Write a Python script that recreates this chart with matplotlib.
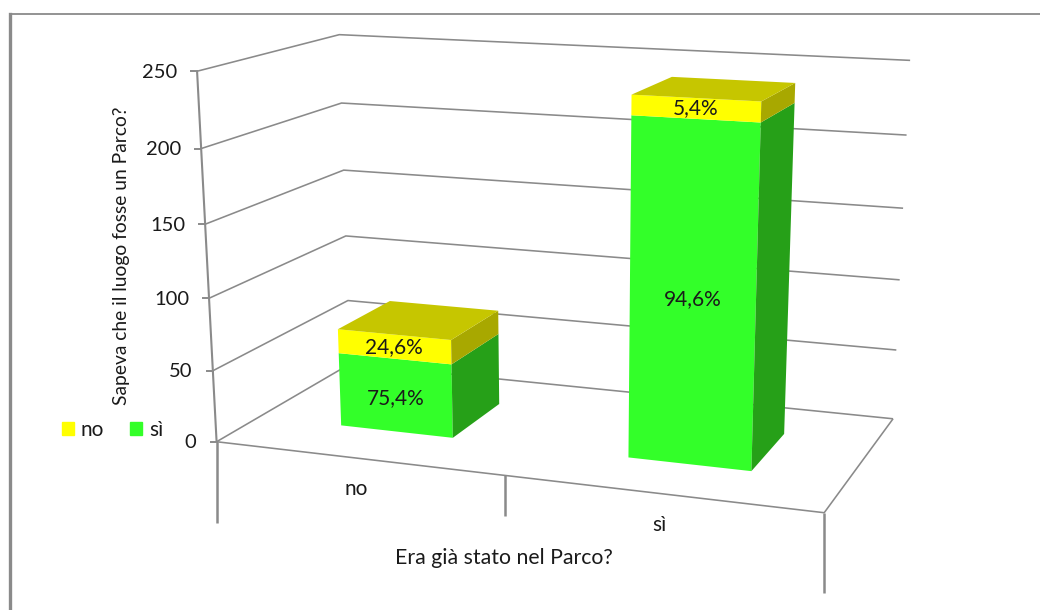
import numpy as np
import matplotlib
matplotlib.use('Agg')
import matplotlib.pyplot as plt
from matplotlib.patches import Patch

# Chart data
categories = ['no', 'sì']
si_values = [52, 227]
no_values = [17, 13]
si_labels = ['75,4%', '94,6%']
no_labels = ['24,6%', '5,4%']
y_ticks = [0, 50, 100, 150, 200, 250]
y_title = 'Sapeva che il luogo fosse un Parco?'
x_title = 'Era già stato nel Parco?'

# Colours
GRAY = '#8a8a8a'
TEXT = '#1a1a1a'
SI_FRONT, SI_SIDE = '#33ff29', '#26a018'
NO_FRONT, NO_TOP, NO_SIDE = '#ffff00', '#c6c600', '#a8a800'

# Camera calibration: box corners (category, value, depth) -> picture pixels
box_points = [(0, 0, 0), (0, 50, 0), (0, 100, 0), (0, 150, 0), (0, 200, 0), (0, 250, 0),
              (0, 0, 1), (0, 50, 1), (0, 100, 1), (0, 150, 1), (0, 200, 1), (0, 250, 1),
              (2, 0, 1), (2, 50, 1), (2, 100, 1), (2, 150, 1), (2, 200, 1), (2, 250, 1),
              (2, 0, 0)]
box_pixels = [(217, 441.5), (213, 371), (209, 298), (205, 225), (201, 148), (197, 71),
              (350, 365), (348, 300), (346, 235), (343, 170), (341, 103.5), (340, 35),
              (892, 419), (897, 350), (900, 279), (904, 208), (906, 135), (910, 61),
              (824, 513)]


def fit_camera(points, pixels):
    # Linear least squares for a 3x4 projection matrix
    rows, rhs = [], []
    for (X, Y, Z), (u, v) in zip(points, pixels):
        rows.append([X, Y, Z, 1, 0, 0, 0, 0, -u * X, -u * Y, -u * Z])
        rows.append([0, 0, 0, 0, X, Y, Z, 1, -v * X, -v * Y, -v * Z])
        rhs += [u, v]
    p = np.linalg.lstsq(np.array(rows, float), np.array(rhs, float), rcond=None)[0]
    return np.append(p, 1).reshape(3, 4)


CAM = fit_camera(box_points, box_pixels)


def project(x, y, z):
    h = CAM @ np.array([x, y, z, 1.0])
    return h[0] / h[2], h[1] / h[2]


def line3d(ax, pts, lw=1.15, color=GRAY):
    xy = np.array([project(*p) for p in pts])
    ax.plot(xy[:, 0], xy[:, 1], color=color, lw=lw, solid_capstyle='butt', zorder=2)


def face(ax, pts, color):
    xy = np.array([project(*p) for p in pts])
    ax.fill(xy[:, 0], xy[:, 1], color=color, lw=0, zorder=3)


def draw_segment(ax, x0, x1, z0, z1, y0, y1, front, side):
    face(ax, [(x0, y0, z0), (x1, y0, z0), (x1, y1, z0), (x0, y1, z0)], front)
    face(ax, [(x1, y0, z0), (x1, y0, z1), (x1, y1, z1), (x1, y1, z0)], side)


plt.rcParams['font.family'] = ['Lato', 'DejaVu Sans']
fig = plt.figure(figsize=(10.4, 6.1), dpi=100)
ax = fig.add_axes([0, 0, 1, 1])
ax.set_xlim(0, 1040)
ax.set_ylim(610, 0)
ax.axis('off')

# Outer frame, only top and left are visible in the picture
ax.plot([10, 1040], [14, 14], color=GRAY, lw=1.3)
ax.plot([10, 10], [14, 610], color=GRAY, lw=2.4)

# Gridlines around the walls
for v in y_ticks:
    line3d(ax, [(0, v, 0), (0, v, 1), (2, v, 1)])

# Floor edges and value axis
line3d(ax, [(0, 0, 0), (2, 0, 0), (2, 0, 1)])
line3d(ax, [(0, 0, 0), (0, 250, 0)], lw=1.5)

for v in y_ticks:
    px, py = project(0, v, 0)
    ax.plot([px - 6, px], [py, py], color=GRAY, lw=1.4, zorder=2)
    ax.text(px - 20, py + 1, str(v), ha='right', va='center', fontsize=14.5, color=TEXT)

# Category separators hang below the floor
for cx, length in zip([0, 1, 2], [81, 41, 80]):
    px, py = project(cx, 0, 0)
    ax.plot([px, px], [py, py + length], color=GRAY, lw=1.8, solid_capstyle='butt', zorder=2)

# Stacked bars
bar_width = 0.40
z0, z1 = 0.30, 0.71
for i, (si, no) in enumerate(zip(si_values, no_values)):
    x0 = i + 0.5 - bar_width / 2
    x1 = i + 0.5 + bar_width / 2
    draw_segment(ax, x0, x1, z0, z1, 0, si, SI_FRONT, SI_SIDE)
    draw_segment(ax, x0, x1, z0, z1, si, si + no, NO_FRONT, NO_SIDE)
    top = si + no
    face(ax, [(x0, top, z0), (x1, top, z0), (x1, top, z1), (x0, top, z1)], NO_TOP)

    px, py = project(i + 0.5, si / 2, z0)
    ax.text(px, py + 3, si_labels[i], ha='center', va='center', fontsize=15, color=TEXT, zorder=4)
    px, py = project(i + 0.5, si + no / 2, z0)
    ax.text(px, py, no_labels[i], ha='center', va='center', fontsize=15, color=TEXT, zorder=4)

# Category labels
for i, name in enumerate(categories):
    px, py = project(i + 0.5, 0, 0)
    ax.text(px - 1, py + 31, name, ha='center', va='center', fontsize=15, color=TEXT)

# Axis titles
ax.text(504, 558, x_title, ha='center', va='center', fontsize=15.3, color=TEXT)
ax.text(122, 256, y_title, ha='center', va='center', rotation=90, fontsize=13.9, color=TEXT)

# Legend
handles = [Patch(color=NO_FRONT, label=categories[0]), Patch(color=SI_FRONT, label=categories[1])]
ax.legend(handles=handles, ncol=2, frameon=False, loc='center left', fontsize=15,
          bbox_to_anchor=(62, 430), bbox_transform=ax.transData, borderpad=0, borderaxespad=0,
          handlelength=0.56, handleheight=0.56, handletextpad=0.35, columnspacing=1.25,
          labelcolor=TEXT)

fig.savefig('out.png', dpi=100)
